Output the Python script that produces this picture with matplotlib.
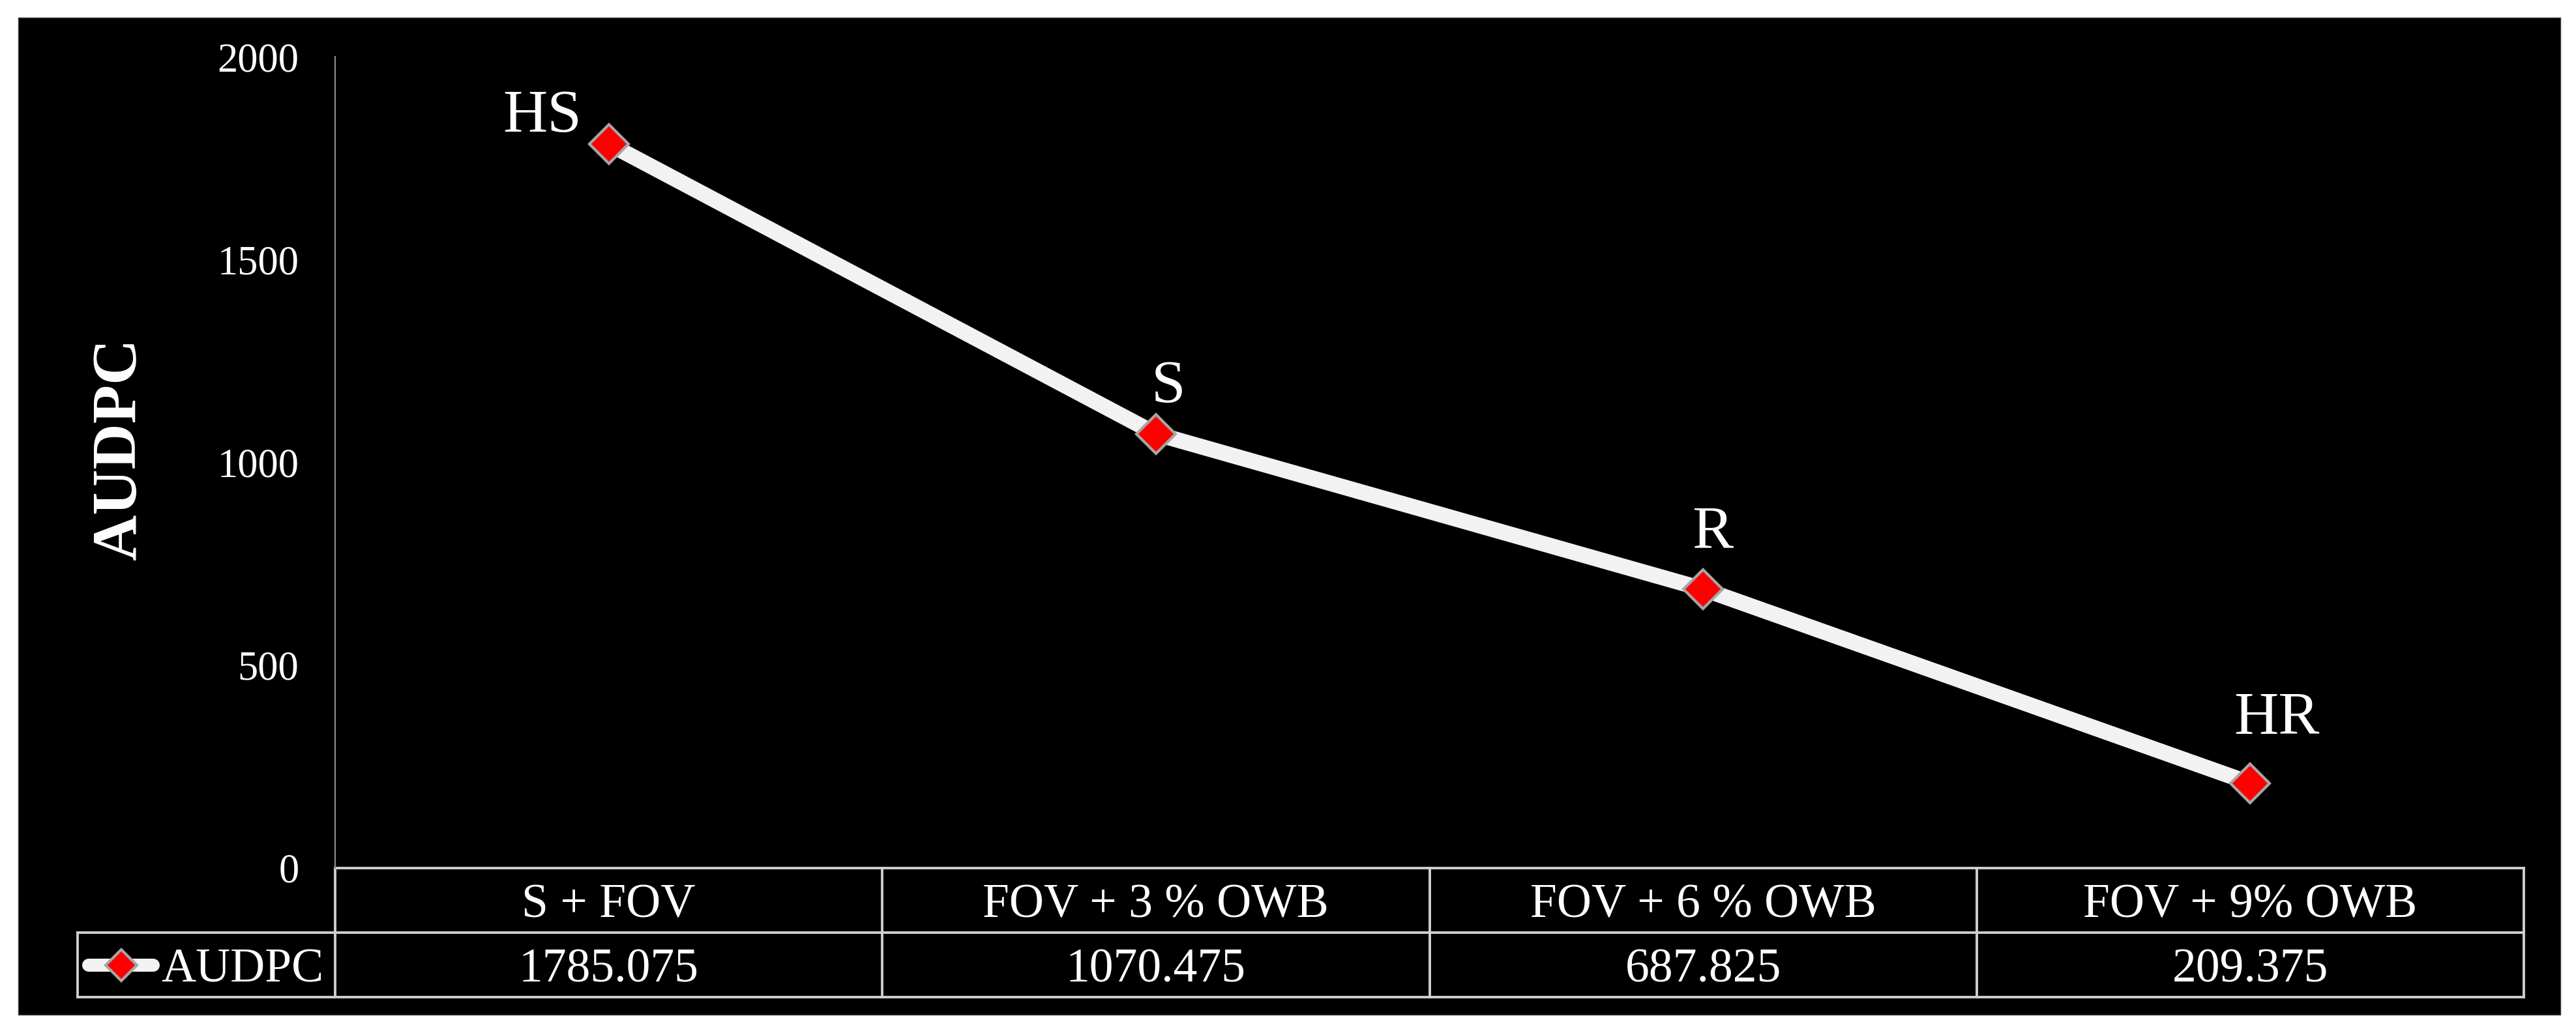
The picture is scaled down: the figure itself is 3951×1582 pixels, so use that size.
import matplotlib
matplotlib.use("Agg")
import matplotlib.pyplot as plt
from matplotlib.patches import Rectangle
from matplotlib.lines import Line2D
from matplotlib.transforms import blended_transform_factory

# ---------------- data ----------------
categories = ["S + FOV", "FOV + 3 % OWB", "FOV + 6 % OWB", "FOV + 9% OWB"]
audpc = [1785.075, 1070.475, 687.825, 209.375]
value_labels = ["1785.075", "1070.475", "687.825", "209.375"]
point_labels = ["HS", "S", "R", "HR"]
series_name = "AUDPC"
y_ticks = [0, 500, 1000, 1500, 2000]

FONT = "Liberation Serif"
W, H = 3951, 1582
DPI = 100
PX = 72.0 / DPI  # px -> points

fig = plt.figure(figsize=(W / DPI, H / DPI), dpi=DPI, facecolor="white")

# black background panel with white margin
fig.patches.append(Rectangle((28 / W, 1 - 1557 / H), (3927 - 28) / W, (1557 - 27) / H,
                             transform=fig.transFigure, facecolor="black",
                             edgecolor="#404040", linewidth=1.0, zorder=-10))

ax_l, ax_r, ax_t, ax_b = 514, 3871, 87, 1332
ax = fig.add_axes([ax_l / W, 1 - ax_b / H, (ax_r - ax_l) / W, (ax_b - ax_t) / H])
ax.set_facecolor("none")
ax.set_zorder(1)

x = list(range(len(categories)))
ax.plot(x, audpc, color="#f2f2f2", linewidth=24 * PX, solid_capstyle="butt",
        zorder=3)
ax.plot(x, audpc, linestyle="none", marker="D", markersize=31,
        markerfacecolor="#ff0000", markeredgecolor="#a6a6a6",
        markeredgewidth=3, zorder=4)

# point labels
offsets = {"HS": (-41, 19, "right"), "S": (19, 49, "center"),
           "R": (15, 63, "center"), "HR": (41, 76, "center")}
for xi, yi, lab in zip(x, audpc, point_labels):
    dx, dy, ha = offsets[lab]
    ax.annotate(lab, (xi, yi), xytext=(dx * PX, dy * PX), textcoords="offset points",
                ha=ha, va="baseline", color="white", fontsize=68, family=FONT,
                zorder=5)

ax.set_xlim(-0.5, len(categories) - 0.5)
ax.set_ylim(0, 2000)
ax.set_yticks(y_ticks)
ax.set_yticklabels([str(t) for t in y_ticks], family=FONT, fontsize=45, color="white")
ax.tick_params(axis="y", length=0, pad=40)
ax.set_xticks([])
for s in ["top", "right", "bottom"]:
    ax.spines[s].set_visible(False)
ax.spines["left"].set_color("#8c8c8c")
ax.spines["left"].set_linewidth(1.6)

ax.set_ylabel("AUDPC", family=FONT, fontsize=70, fontweight="bold", color="white",
              va="center")
ax.yaxis.set_label_coords((184 - ax_l) / (ax_r - ax_l), (ax_b - 689) / (ax_b - ax_t))

# ---------------- data table ----------------
axh = ax_b - ax_t
axw = ax_r - ax_l
row_h = 99 / axh
y0, y1, y2 = 0.0, -row_h, -2 * row_h
tr = blended_transform_factory(ax.transData, ax.transAxes)
lc, lw = "#cfcfcf", 2.8
label_left = (119 - ax_l) / axw  # axes fraction


def hline(xa, xb, y, transform):
    ax.add_line(Line2D([xa, xb], [y, y], color=lc, linewidth=lw, transform=transform,
                       clip_on=False, zorder=2))


def vline(xv, ya, yb, transform):
    ax.add_line(Line2D([xv, xv], [ya, yb], color=lc, linewidth=lw, transform=transform,
                       clip_on=False, zorder=2))


n = len(categories)
hline(-0.5, n - 0.5, y0, tr)
hline(-0.5, n - 0.5, y1, tr)
hline(-0.5, n - 0.5, y2, tr)
hline(label_left, 0.0, y1, ax.transAxes)
hline(label_left, 0.0, y2, ax.transAxes)
vline(label_left, y1, y2, ax.transAxes)
for b in range(n + 1):
    vline(b - 0.5, y0, y2, tr)

for xi, cat, val in zip(x, categories, value_labels):
    ax.text(xi, (y0 + y1) / 2, cat, transform=tr, ha="center", va="center_baseline",
            color="white", fontsize=53, family=FONT, clip_on=False)
    ax.text(xi, (y1 + y2) / 2, val, transform=tr, ha="center", va="center_baseline",
            color="white", fontsize=53, family=FONT, clip_on=False)

# legend key inside row-label cell
ky = (y1 + y2) / 2
ax.add_line(Line2D([(126 - ax_l) / axw + 0.003, (245 - ax_l) / axw - 0.003], [ky, ky],
                   color="#f2f2f2", linewidth=20 * PX, solid_capstyle="round",
                   transform=ax.transAxes, clip_on=False, zorder=3))
ax.add_line(Line2D([(186 - ax_l) / axw], [ky], linestyle="none", marker="D",
                   markersize=24, markerfacecolor="#ff0000", markeredgecolor="#a6a6a6",
                   markeredgewidth=3, transform=ax.transAxes, clip_on=False, zorder=4))
ax.text((247 - ax_l) / axw, ky, series_name, transform=ax.transAxes, ha="left",
        va="center_baseline", color="white", fontsize=53, family=FONT, clip_on=False)

fig.savefig("out.png", dpi=DPI, facecolor="white")
